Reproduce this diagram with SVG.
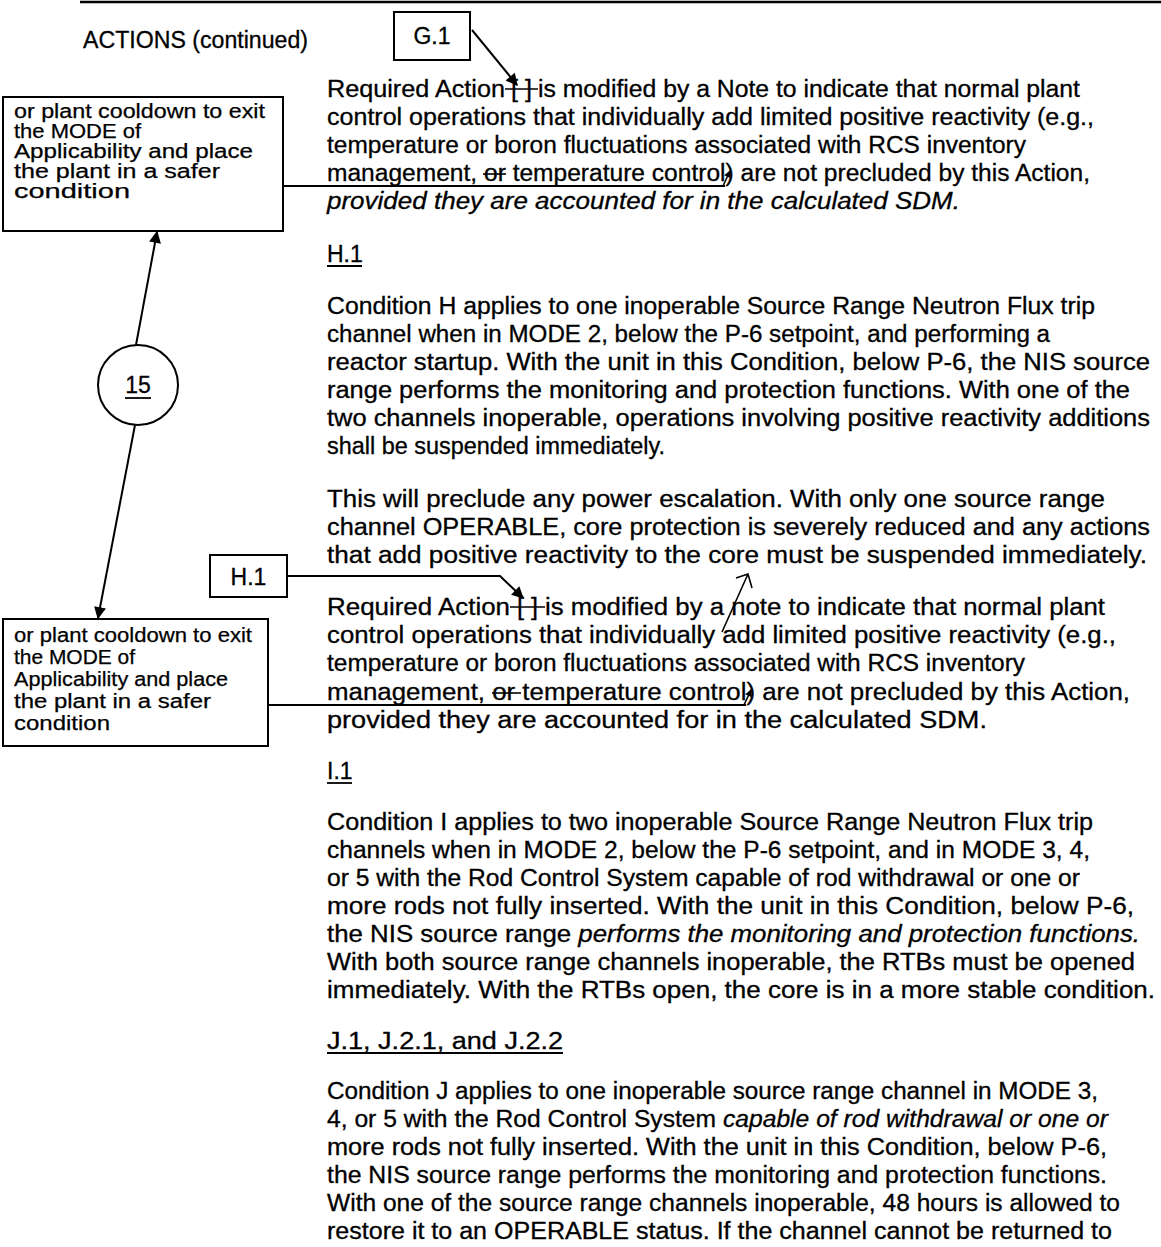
<svg xmlns="http://www.w3.org/2000/svg" width="1161" height="1247" viewBox="0 0 1161 1247">
  <defs>
    <marker id="head" viewBox="0 0 10 10" refX="9" refY="5" markerWidth="15" markerHeight="12" markerUnits="userSpaceOnUse" orient="auto">
      <path d="M0,0 L10,5 L0,10 z" fill="#000"/>
    </marker>
    <marker id="tick" viewBox="0 0 10 10" refX="9" refY="5" markerWidth="8" markerHeight="7" markerUnits="userSpaceOnUse" orient="auto">
      <path d="M0,0 L10,5 L0,10 z" fill="#000"/>
    </marker>
  </defs>
  <style>
    .t{font-family:"Liberation Sans",Arial,Helvetica,sans-serif;font-size:23px;fill:#000;stroke:#000;stroke-width:0.3}
    .i{font-style:italic}
    .n{font-family:"Liberation Sans",Arial,Helvetica,sans-serif;font-size:20px;fill:#000;stroke:#000;stroke-width:0.25}
    .box{fill:#fff;stroke:#000;stroke-width:2}
    .ln{fill:none;stroke:#000;stroke-width:2}
    .mk{fill:none;stroke:#000;stroke-width:1.6}
    .ul{stroke:#000;stroke-width:1.8}
  </style>

  <rect width="1161" height="1247" fill="#fff"/>
  <!-- page rule -->
  <line x1="80" y1="2" x2="1161" y2="2" stroke="#000" stroke-width="2.5"/>

  <text class="t" x="83" y="48" textLength="225" lengthAdjust="spacingAndGlyphs">ACTIONS (continued)</text>

  <!-- reference tags -->
  <g id="tag-g1">
    <rect class="box" x="394" y="12" width="76" height="48"/>
    <text class="t" x="432" y="44" text-anchor="middle" font-size="24">G.1</text>
  </g>
  <g id="tag-h1">
    <rect class="box" x="210" y="555" width="77" height="42"/>
    <text class="t" x="248.5" y="585" text-anchor="middle" font-size="24">H.1</text>
  </g>

  <!-- margin notes -->
  <g id="note-top">
    <rect class="box" x="3" y="97" width="280" height="134"/>
    <text class="n" x="14" y="118" textLength="251" lengthAdjust="spacingAndGlyphs">or plant cooldown to exit</text>
    <text class="n" x="14" y="138" textLength="127" lengthAdjust="spacingAndGlyphs">the MODE of</text>
    <text class="n" x="14" y="158" textLength="239" lengthAdjust="spacingAndGlyphs">Applicability and place</text>
    <text class="n" x="14" y="178" textLength="206" lengthAdjust="spacingAndGlyphs">the plant in a safer</text>
    <text class="n" x="14" y="198" textLength="116" lengthAdjust="spacingAndGlyphs">condition</text>
  </g>
  <g id="note-bottom">
    <rect class="box" x="3" y="619" width="265" height="127"/>
    <text class="n" x="14" y="642" textLength="238" lengthAdjust="spacingAndGlyphs">or plant cooldown to exit</text>
    <text class="n" x="14" y="664" textLength="121" lengthAdjust="spacingAndGlyphs">the MODE of</text>
    <text class="n" x="14" y="686" textLength="214" lengthAdjust="spacingAndGlyphs">Applicability and place</text>
    <text class="n" x="14" y="708" textLength="197" lengthAdjust="spacingAndGlyphs">the plant in a safer</text>
    <text class="n" x="14" y="730" textLength="96" lengthAdjust="spacingAndGlyphs">condition</text>
  </g>
  <g id="bubble-15">
    <circle cx="138" cy="385" r="40" fill="#fff" stroke="#000" stroke-width="2"/>
    <text class="t" x="138" y="393" text-anchor="middle">15</text>
    <line class="ul" x1="125" y1="398" x2="151" y2="398"/>
  </g>

  <!-- body text -->
  <g id="body">
    <text class="t" x="327" y="97" textLength="178" lengthAdjust="spacingAndGlyphs">Required Action</text>
    <text class="t" x="511" y="97" textLength="21" lengthAdjust="spacingAndGlyphs">[ ]</text>
    <text class="t" x="538" y="97" textLength="542" lengthAdjust="spacingAndGlyphs">is modified by a Note to indicate that normal plant</text>
    <text class="t" x="327" y="125" textLength="767" lengthAdjust="spacingAndGlyphs">control operations that individually add limited positive reactivity (e.g.,</text>
    <text class="t" x="327" y="153" textLength="699" lengthAdjust="spacingAndGlyphs">temperature or boron fluctuations associated with RCS inventory</text>
    <text class="t" x="327" y="181" textLength="763" lengthAdjust="spacingAndGlyphs">management, or temperature control) are not precluded by this Action,</text>
    <text class="t i" x="327" y="209" textLength="633" lengthAdjust="spacingAndGlyphs">provided they are accounted for in the calculated SDM.</text>

    <text class="t" x="327" y="262">H.1</text>
    <line class="ul" x1="327" y1="266" x2="362" y2="266"/>

    <text class="t" x="327" y="314" textLength="768" lengthAdjust="spacingAndGlyphs">Condition H applies to one inoperable Source Range Neutron Flux trip</text>
    <text class="t" x="327" y="342" textLength="723" lengthAdjust="spacingAndGlyphs">channel when in MODE 2, below the P-6 setpoint, and performing a</text>
    <text class="t" x="327" y="370" textLength="823" lengthAdjust="spacingAndGlyphs">reactor startup.  With the unit in this Condition, below P-6, the NIS source</text>
    <text class="t" x="327" y="398" textLength="803" lengthAdjust="spacingAndGlyphs">range performs the monitoring and protection functions.  With one of the</text>
    <text class="t" x="327" y="426" textLength="823" lengthAdjust="spacingAndGlyphs">two channels inoperable, operations involving positive reactivity additions</text>
    <text class="t" x="327" y="454" textLength="338" lengthAdjust="spacingAndGlyphs">shall be suspended immediately.</text>

    <text class="t" x="327" y="507" textLength="778" lengthAdjust="spacingAndGlyphs">This will preclude any power escalation.  With only one source range</text>
    <text class="t" x="327" y="535" textLength="823" lengthAdjust="spacingAndGlyphs">channel OPERABLE, core protection is severely reduced and any actions</text>
    <text class="t" x="327" y="563" textLength="820" lengthAdjust="spacingAndGlyphs">that add positive reactivity to the core must be suspended immediately.</text>

    <text class="t" x="327" y="615" textLength="183" lengthAdjust="spacingAndGlyphs">Required Action</text>
    <text class="t" x="517" y="615" textLength="21" lengthAdjust="spacingAndGlyphs">[ ]</text>
    <text class="t" x="545" y="615" textLength="560" lengthAdjust="spacingAndGlyphs">is modified by a note to indicate that normal plant</text>
    <text class="t" x="327" y="643" textLength="789" lengthAdjust="spacingAndGlyphs">control operations that individually add limited positive reactivity (e.g.,</text>
    <text class="t" x="327" y="671" textLength="698" lengthAdjust="spacingAndGlyphs">temperature or boron fluctuations associated with RCS inventory</text>
    <text class="t" x="327" y="700" textLength="803" lengthAdjust="spacingAndGlyphs">management, or temperature control) are not precluded by this Action,</text>
    <text class="t" x="327" y="728" textLength="660" lengthAdjust="spacingAndGlyphs">provided they are accounted for in the calculated SDM.</text>

    <text class="t" x="327" y="779">I.1</text>
    <line class="ul" x1="327" y1="783" x2="352" y2="783"/>

    <text class="t" x="327" y="830" textLength="766" lengthAdjust="spacingAndGlyphs">Condition I applies to two inoperable Source Range Neutron Flux trip</text>
    <text class="t" x="327" y="858" textLength="763" lengthAdjust="spacingAndGlyphs">channels when in MODE 2, below the P-6 setpoint, and in MODE 3, 4,</text>
    <text class="t" x="327" y="886" textLength="753" lengthAdjust="spacingAndGlyphs">or 5 with the Rod Control System capable of rod withdrawal or one or</text>
    <text class="t" x="327" y="914" textLength="807" lengthAdjust="spacingAndGlyphs">more rods not fully inserted.  With the unit in this Condition, below P-6,</text>
    <text class="t" x="327" y="942" textLength="813" lengthAdjust="spacingAndGlyphs">the NIS source range <tspan class="i">performs the monitoring and protection functions.</tspan></text>
    <text class="t" x="327" y="970" textLength="808" lengthAdjust="spacingAndGlyphs">With both source range channels inoperable, the RTBs must be opened</text>
    <text class="t" x="327" y="998" textLength="828" lengthAdjust="spacingAndGlyphs">immediately.  With the RTBs open, the core is in a more stable condition.</text>

    <text class="t" x="327" y="1049" textLength="236" lengthAdjust="spacingAndGlyphs">J.1, J.2.1, and J.2.2</text>
    <line class="ul" x1="327" y1="1053" x2="563" y2="1053"/>

    <text class="t" x="327" y="1099" textLength="771" lengthAdjust="spacingAndGlyphs">Condition J applies to one inoperable source range channel in MODE 3,</text>
    <text class="t" x="327" y="1127" textLength="781" lengthAdjust="spacingAndGlyphs">4, or 5 with the Rod Control System <tspan class="i">capable of rod withdrawal or one or</tspan></text>
    <text class="t" x="327" y="1155" textLength="780" lengthAdjust="spacingAndGlyphs">more rods not fully inserted.  With the unit in this Condition, below P-6,</text>
    <text class="t" x="327" y="1183" textLength="780" lengthAdjust="spacingAndGlyphs">the NIS source range performs the monitoring and protection functions.</text>
    <text class="t" x="327" y="1211" textLength="793" lengthAdjust="spacingAndGlyphs">With one of the source range channels inoperable, 48 hours is allowed to</text>
    <text class="t" x="327" y="1239" textLength="785" lengthAdjust="spacingAndGlyphs">restore it to an OPERABLE status.  If the channel cannot be returned to</text>
  </g>

  <!-- edit marks: strike-throughs and the small pointer at "add" -->
  <g id="edits">
    <line class="mk" x1="505" y1="89" x2="538" y2="89"/>
    <line class="mk" x1="483" y1="174" x2="506" y2="174"/>
    <line class="mk" x1="510" y1="607" x2="545" y2="607"/>
    <line class="mk" x1="492" y1="693" x2="521" y2="693"/>
    <path class="mk" d="M722,632 L748,574 M736,578 L748,574 L752,588"/>
  </g>

  <!-- connectors -->
  <g id="connectors">
    <line class="ln" x1="472" y1="30" x2="517" y2="85" marker-end="url(#head)"/>
    <polyline class="ln" points="287,576 500,576 523,598" marker-end="url(#head)"/>
    <line class="ln" x1="136" y1="345" x2="157" y2="232" marker-end="url(#head)"/>
    <line class="ln" x1="135" y1="425" x2="98" y2="618" marker-end="url(#head)"/>
    <polyline class="ln" points="283,186 725,186"/>
    <line class="mk" x1="723" y1="186" x2="730" y2="171" marker-end="url(#tick)"/>
    <polyline class="ln" points="268,705 746,705"/>
    <line class="mk" x1="744" y1="705" x2="751" y2="690" marker-end="url(#tick)"/>
  </g>
</svg>
